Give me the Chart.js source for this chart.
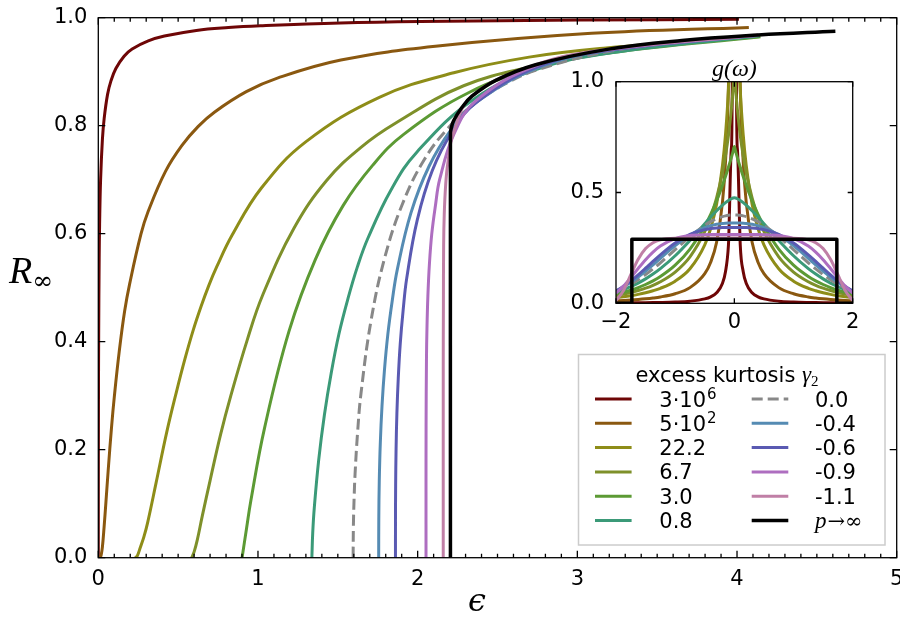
<!DOCTYPE html>
<html>
<head>
<meta charset="utf-8">
<script src="https://cdn.jsdelivr.net/npm/chart.js@4.4.1/dist/chart.umd.min.js"></script>
<style>
  html, body { margin: 0; padding: 0; background: #fff; }
  #wrap { position: relative; width: 900px; height: 619px; }
  #main { position: absolute; left: 0; top: 0; }
  #inset { position: absolute; left: 540px; top: 50px; }
</style>
</head>
<body>
<div id="wrap">
  <canvas id="main" width="900" height="619"></canvas>
  <canvas id="inset" width="340" height="290"></canvas>
</div>
<script>
// order parameter R_inf against coupling epsilon, one [epsilon, R] list per distribution
const curveK3e6 = [[0,0],[0.00014,0.07],[0.00105,0.287],[0.0024,0.416],[0.00543,0.553],[0.00812,0.616],[0.0143,0.699],[0.0258,0.775],[0.037,0.814],[0.058,0.858],[0.0793,0.883],[0.110,0.906],[0.1615,0.9287],[0.212,0.942],[0.313,0.957],[0.414,0.966],[0.614,0.9765],[0.815,0.9818],[1.015,0.985],[1.515,0.9903],[2.014,0.993],[3.013,0.9956],[4.012,0.9969]];
const curveK5e2 = [[0.0119,0],[0.018,0.005],[0.0256,0.0195],[0.036,0.0556],[0.048,0.104],[0.0619,0.1615],[0.0828,0.2415],[0.1005,0.2986],[0.131,0.3815],[0.1645,0.456],[0.197,0.508],[0.267,0.599],[0.312,0.641],[0.42,0.715],[0.524,0.7635],[0.626,0.7987],[0.727,0.825],[0.927,0.863],[1.1255,0.8885],[1.519,0.9215],[2.111,0.947],[3.089,0.971],[4.074,0.982]];
const curveK22 = [[0.2325,0],[0.245,0.004],[0.263,0.019],[0.285,0.038],[0.309,0.065],[0.3615,0.138],[0.429,0.233],[0.489,0.3067],[0.543,0.3685],[0.594,0.421],[0.644,0.4656],[0.693,0.5048],[0.742,0.539],[0.8375,0.597],[1.0225,0.685],[1.299,0.770],[1.76,0.8525],[2.226,0.898],[2.698,0.927],[3.18,0.944],[4.137,0.967]];
const curveK6_7 = [[0.585,0],[0.6,0.0107],[0.62,0.033],[0.651,0.0769],[0.700,0.1428],[0.766,0.2284],[0.83,0.300],[0.932,0.4025],[1.029,0.486],[1.227,0.611],[1.431,0.699],[1.645,0.760],[1.863,0.805],[2.288,0.874],[2.74,0.911],[3.197,0.938],[4.143,0.965]];
const curveK3 = [[0.9003,0],[0.9283,0.0539],[0.955,0.105],[1.041,0.240],[1.194,0.419],[1.359,0.552],[1.533,0.652],[1.719,0.727],[1.9125,0.784],[2.3215,0.8615],[2.753,0.908],[3.209,0.935],[4.147,0.9645]];
const curveK0_8 = [[1.3375,0],[1.3429,0.0465],[1.3526,0.0924],[1.3803,0.1811],[1.4161,0.2648],[1.459,0.3427],[1.5073,0.4147],[1.5634,0.4797],[1.623,0.539],[1.689,0.592],[1.834,0.6816],[1.996,0.7515],[2.354,0.8495],[2.75,0.905],[3.21,0.935],[4.14,0.966]];
const curveK0 = [[1.5958,0],[1.5976,0.06],[1.602,0.11],[1.608,0.155],[1.6236,0.231],[1.645,0.304],[1.708,0.439],[1.795,0.557],[1.906,0.656],[2.039,0.736],[2.195,0.797],[2.369,0.844],[2.559,0.879],[2.763,0.905],[3.2,0.9375],[3.664,0.955],[4.137,0.967]];
const curveKm0_4 = [[1.7559,0],[1.7566,0.0712],[1.7596,0.1421],[1.7661,0.2123],[1.7768,0.2814],[1.7924,0.3487],[1.8132,0.4136],[1.8406,0.4754],[1.8727,0.534],[1.958,0.6385],[2.0707,0.7244],[2.2087,0.7923],[2.37,0.8439],[2.755,0.9074],[3.194,0.9392],[4.135,0.9673]];
const curveKm0_6 = [[1.861,0],[1.8611,0.0672],[1.8621,0.1343],[1.8648,0.2011],[1.870,0.2674],[1.8786,0.3327],[1.891,0.3966],[1.909,0.458],[1.9316,0.5177],[1.9977,0.6257],[2.0918,0.7171],[2.217,0.7893],[2.37,0.8439],[2.75,0.9091],[3.194,0.9395],[4.135,0.9675]];
const curveKm0_9 = [[2.0523,0],[2.0523,0.1218],[2.0527,0.2436],[2.0551,0.365],[2.0583,0.4251],[2.064,0.4845],[2.0734,0.5426],[2.088,0.5986],[2.111,0.6513],[2.1386,0.7014],[2.2284,0.7853],[2.3638,0.8461],[2.743,0.9115],[3.19,0.9405],[4.134,0.9675]];
const curveKm1_1 = [[2.1602,0],[2.1602,0.3],[2.1605,0.4],[2.1612,0.4627],[2.1626,0.578],[2.1664,0.6347],[2.1752,0.6896],[2.189,0.731],[2.224,0.7869],[2.34,0.8546],[2.739,0.9129],[3.187,0.9413],[4.133,0.9678]];
const curvePinf = [[2.2053,0],[2.2053,0.7854],[2.208,0.7926],[2.225,0.809],[2.278,0.8341],[2.34,0.8546],[2.489,0.8839],[2.739,0.9129],[3.187,0.9413],[3.6545,0.9577],[4.133,0.9678],[4.616,0.9748]];

const kurtosisLabels = ['3·10^6', '5·10^2', '22.2', '6.7', '3.0', '0.8', '0.0', '-0.4', '-0.6', '-0.9', '-1.1', 'p→∞'];
const curveColors = ['#6e0606', '#8a5810', '#8e8d18', '#7e902a', '#5c9a34', '#3b9a78', '#888888', '#558bb3', '#5a5ab2', '#ae6ec0', '#c07fa6', '#000000'];

// frequency densities g(omega), tabulated for omega >= 0 (symmetric)
const omegaHalf = [0, 0.02, 0.05, 0.1, 0.15, 0.2, 0.3, 0.4, 0.5, 0.75, 1, 1.25, 1.375, 1.5, 1.625, 1.75, 1.875, 2];
const gK3e6 = [680000, 2.37, 0.70, 0.262, 0.1424, 0.0908, 0.0474, 0.029, 0.0198, 0.00967, 0.00574, 0.00377, 0.00315, 0.00265, 0.00226, 0.00197, 0.00171, 0.0015];
const gK5e2 = [53.7, 3.68, 1.85, 0.977, 0.637, 0.4575, 0.2755, 0.1856, 0.1339, 0.0707, 0.0431, 0.0286, 0.0239, 0.0202, 0.0172, 0.0148, 0.0128, 0.0112];
const gK22 = [2.739, 1.715, 1.307, 0.9617, 0.760, 0.6234, 0.447, 0.3377, 0.2637, 0.1558, 0.1, 0.0677, 0.0565, 0.04755, 0.0403, 0.0344, 0.0295, 0.0254];
const gK6_7 = [1.0885, 0.9764, 0.877, 0.757, 0.6653, 0.5908, 0.4756, 0.3896, 0.3231, 0.2099, 0.1411, 0.0973, 0.0813, 0.0683, 0.0575, 0.0486, 0.0413, 0.0350];
const gK3 = [0.7071, 0.6874, 0.6588, 0.6139, 0.572, 0.5329, 0.4627, 0.4017, 0.3487, 0.2449, 0.1720, 0.1208, 0.1012, 0.0848, 0.0710, 0.0596, 0.0499, 0.0419];
const gK0_8 = [0.476, 0.4749, 0.4718, 0.4641, 0.4545, 0.4433, 0.4176, 0.3891, 0.3591, 0.2837, 0.2146, 0.1564, 0.1318, 0.1101, 0.0914, 0.0753, 0.0616, 0.05];
const gK0 = [0.3989, 0.3988, 0.3984, 0.3970, 0.3945, 0.3910, 0.3814, 0.3683, 0.3521, 0.3011, 0.2420, 0.1826, 0.1550, 0.1295, 0.1066, 0.0863, 0.0688, 0.0540];
const gKm0_4 = [0.3626, 0.3626, 0.3625, 0.3622, 0.3615, 0.3604, 0.3567, 0.3505, 0.3419, 0.3085, 0.2601, 0.2030, 0.1737, 0.1452, 0.1186, 0.0944, 0.0733, 0.0554];
const gKm0_6 = [0.3421, 0.3421, 0.3421, 0.3420, 0.3418, 0.3415, 0.3400, 0.3371, 0.3325, 0.3107, 0.2723, 0.2189, 0.1891, 0.1584, 0.1286, 0.1009, 0.0761, 0.0552];
const gKm0_9 = [0.3102, 0.3102, 0.3102, 0.3102, 0.3102, 0.3102, 0.3102, 0.3100, 0.3096, 0.3058, 0.2922, 0.2583, 0.2311, 0.1968, 0.1573, 0.1160, 0.0774, 0.0456];
const gKm1_1 = [0.2947, 0.2947, 0.2947, 0.2947, 0.2947, 0.2947, 0.2947, 0.2947, 0.2947, 0.2947, 0.2938, 0.2864, 0.2736, 0.2468, 0.1986, 0.1288, 0.0566, 0.0127];
const uniformOmega = [-2, -1.732, -1.732, 1.732, 1.732, 2];
const uniformG = [0, 0, 0.2887, 0.2887, 0, 0];

const xTicksMain = [0, 1, 2, 3, 4, 5];
const yTicksMain = [0, 0.2, 0.4, 0.6, 0.8, 1.0];
const xTicksInset = [-2, 0, 2];
const yTicksInset = [0, 0.5, 1.0];

Chart.defaults.font.family = '"DejaVu Sans"';
Chart.defaults.font.size = 21;
Chart.defaults.color = '#000';

const mainCurves = [curveK3e6, curveK5e2, curveK22, curveK6_7, curveK3, curveK0_8, curveK0, curveKm0_4, curveKm0_6, curveKm0_9, curveKm1_1, curvePinf];
const densities = [gK3e6, gK5e2, gK22, gK6_7, gK3, gK0_8, gK0, gKm0_4, gKm0_6, gKm0_9, gKm1_1];

function lineStyle(i, n) {
  return {
    label: kurtosisLabels[i],
    borderColor: curveColors[i],
    borderWidth: i === n - 1 ? 3.5 : 3,
    borderDash: i === 6 ? [11, 5] : [],
    borderJoinStyle: 'round',
    pointRadius: 0,
    fill: false,
    order: n - i   // later curves end up on top
  };
}

// inward ticks on all four sides plus the axes box
const framePlugin = {
  id: 'frame',
  afterDatasetsDraw(chart, args, opts) {
    const { ctx, chartArea: a, scales: { x, y } } = chart;
    ctx.save();
    ctx.strokeStyle = '#000';
    ctx.lineWidth = 1.3;
    ctx.setLineDash([]);
    ctx.beginPath();
    const tickX = (v, len) => {
      const p = x.getPixelForValue(v);
      ctx.moveTo(p, a.bottom); ctx.lineTo(p, a.bottom - len);
      ctx.moveTo(p, a.top); ctx.lineTo(p, a.top + len);
    };
    const tickY = (v, len) => {
      const p = y.getPixelForValue(v);
      ctx.moveTo(a.left, p); ctx.lineTo(a.left + len, p);
      ctx.moveTo(a.right, p); ctx.lineTo(a.right - len, p);
    };
    x.ticks.forEach(t => tickX(t.value, opts.major));
    y.ticks.forEach(t => tickY(t.value, opts.major));
    if (opts.minorStep) {
      for (let k = 1; x.min + k * opts.minorStep < x.max - 1e-9; k++) {
        tickX(x.min + k * opts.minorStep, opts.minor);
      }
    }
    ctx.stroke();
    ctx.strokeRect(a.left, a.top, a.right - a.left, a.bottom - a.top);
    ctx.restore();
  }
};

function drawEntryLabel(ctx, text, x, y) {
  ctx.textAlign = 'left';
  ctx.textBaseline = 'alphabetic';
  ctx.fillStyle = '#000';
  if (text.startsWith('p')) {
    ctx.font = 'italic 23px "Liberation Serif"';
    ctx.fillText('p', x, y);
    const w = ctx.measureText('p').width;
    ctx.font = '21px "DejaVu Serif"';
    ctx.fillText(text.slice(1), x + w + 1, y);
    return;
  }
  const [base, sup] = text.split('^');
  ctx.font = '21px "DejaVu Sans"';
  ctx.fillText(base, x, y);
  if (sup) {
    const w = ctx.measureText(base).width;
    ctx.font = '15px "DejaVu Sans"';
    ctx.fillText(sup, x + w + 1, y - 8);
  }
}

const legendPlugin = {
  id: 'kurtosisLegend',
  afterDraw(chart) {
    const ctx = chart.ctx;
    ctx.save();
    // legend box
    ctx.fillStyle = '#fff';
    ctx.fillRect(578.5, 354.5, 306.5, 190.5);
    ctx.strokeStyle = '#cccccc';
    ctx.lineWidth = 1.5;
    ctx.strokeRect(578.5, 354.5, 306.5, 190.5);

    // title: excess kurtosis gamma_2
    ctx.fillStyle = '#000';
    ctx.textBaseline = 'alphabetic';
    ctx.textAlign = 'left';
    ctx.font = '21px "DejaVu Sans"';
    const t1 = 'excess kurtosis ';
    const w1 = ctx.measureText(t1).width;
    ctx.font = 'italic 23px "Liberation Serif"';
    const w2 = ctx.measureText('γ').width;
    ctx.font = '15px "Liberation Serif"';
    const w3 = ctx.measureText('2').width;
    let tx = 727 - (w1 + w2 + w3) / 2;
    const ty = 381.5;
    ctx.font = '21px "DejaVu Sans"';
    ctx.fillText(t1, tx, ty);
    tx += w1;
    ctx.font = 'italic 23px "Liberation Serif"';
    ctx.fillText('γ', tx, ty);
    tx += w2;
    ctx.font = '15px "Liberation Serif"';
    ctx.fillText('2', tx, ty + 4);

    chart.data.datasets.forEach((ds, i) => {
      const col = Math.floor(i / 6);
      const row = i % 6;
      const ly = 399 + row * 24.3;
      const lx = col ? 751.7 : 595;
      ctx.strokeStyle = ds.borderColor;
      ctx.lineWidth = ds.borderWidth;
      ctx.setLineDash(ds.borderDash);
      ctx.beginPath();
      ctx.moveTo(lx, ly);
      ctx.lineTo(lx + 36.6, ly);
      ctx.stroke();
      ctx.setLineDash([]);
      drawEntryLabel(ctx, ds.label, col ? 815 : 659.3, ly + 7.5);
    });

    // axis labels
    ctx.fillStyle = '#000';
    ctx.textAlign = 'left';
    ctx.font = 'italic 38px "Liberation Serif"';
    ctx.fillText('R', 9, 283);
    const wr = ctx.measureText('R').width;
    ctx.font = '25px "DejaVu Serif"';
    ctx.fillText('∞', 9 + wr, 289);
    ctx.textAlign = 'center';
    ctx.font = 'italic 32px "DejaVu Serif"';
    ctx.fillText('ϵ', 477, 611);
    ctx.restore();
  }
};

new Chart(document.getElementById('main'), {
  type: 'line',
  data: {
    datasets: mainCurves.map((pts, i) => Object.assign(
      { data: pts.map(([x, y]) => ({ x, y })), tension: 0.4 }, lineStyle(i, mainCurves.length)))
  },
  options: {
    responsive: false,
    animation: false,
    devicePixelRatio: 1,
    layout: { autoPadding: false, padding: { top: 17.7, right: 3.3, left: 0, bottom: 0 } },
    plugins: {
      legend: { display: false },
      tooltip: { enabled: false },
      frame: { major: 7, minor: 4, minorStep: 0.1 }
    },
    scales: {
      x: {
        type: 'linear', min: 0, max: 5,
        grid: { display: false, drawTicks: false },
        border: { display: false },
        afterBuildTicks: s => { s.ticks = xTicksMain.map(v => ({ value: v })); },
        afterFit: s => { s.height = 61.3; s.paddingLeft = 0; s.paddingRight = 0; },
        ticks: { padding: 9, maxRotation: 0, callback: v => String(v) }
      },
      y: {
        type: 'linear', min: 0, max: 1,
        grid: { display: false, drawTicks: false },
        border: { display: false },
        afterBuildTicks: s => { s.ticks = yTicksMain.map(v => ({ value: v })); },
        afterFit: s => { s.width = 98.3; s.paddingTop = 0; s.paddingBottom = 0; },
        ticks: { padding: 11, callback: v => v.toFixed(1) }
      }
    }
  },
  plugins: [framePlugin, legendPlugin]
});

// inset: the densities themselves
const mirrored = (w, g) => [
  ...w.slice(1).map((v, i) => ({ x: -v, y: g[i + 1] })).reverse(),
  ...w.map((v, i) => ({ x: v, y: g[i] }))
];

const insetTitle = {
  id: 'insetTitle',
  beforeDatasetsDraw(chart) {
    const { ctx, chartArea: a } = chart;
    ctx.save();
    ctx.fillStyle = '#fff';
    ctx.fillRect(a.left, a.top, a.right - a.left, a.bottom - a.top);
    ctx.restore();
  },
  afterDraw(chart) {
    const { ctx, chartArea: a } = chart;
    ctx.save();
    ctx.fillStyle = '#000';
    ctx.textAlign = 'center';
    ctx.textBaseline = 'alphabetic';
    ctx.font = 'italic 24px "Liberation Serif"';
    ctx.fillText('g(ω)', (a.left + a.right) / 2, a.top - 6);
    ctx.restore();
  }
};

const insetSets = densities.map((g, i) => Object.assign(
  { data: mirrored(omegaHalf, g), cubicInterpolationMode: 'monotone' }, lineStyle(i, mainCurves.length)));
insetSets.push(Object.assign(
  { data: uniformOmega.map((v, i) => ({ x: v, y: uniformG[i] })), tension: 0 },
  lineStyle(11, mainCurves.length)));

new Chart(document.getElementById('inset'), {
  type: 'line',
  data: { datasets: insetSets },
  options: {
    responsive: false,
    animation: false,
    devicePixelRatio: 1,
    layout: { autoPadding: false, padding: { top: 31.7, right: 27.3, left: 0, bottom: 0 } },
    plugins: {
      legend: { display: false },
      tooltip: { enabled: false },
      frame: { major: 5, minor: 0, minorStep: 0 }
    },
    scales: {
      x: {
        type: 'linear', min: -2, max: 2,
        grid: { display: false, drawTicks: false },
        border: { display: false },
        afterBuildTicks: s => { s.ticks = xTicksInset.map(v => ({ value: v })); },
        afterFit: s => { s.height = 36.7; s.paddingLeft = 0; s.paddingRight = 0; },
        ticks: { padding: 7, maxRotation: 0, callback: v => (v < 0 ? '\u2212' + Math.abs(v) : String(v)) }
      },
      y: {
        type: 'linear', min: 0, max: 1,
        grid: { display: false, drawTicks: false },
        border: { display: false },
        afterBuildTicks: s => { s.ticks = yTicksInset.map(v => ({ value: v })); },
        afterFit: s => { s.width = 76; s.paddingTop = 0; s.paddingBottom = 0; },
        ticks: { padding: 12, callback: v => v.toFixed(1) }
      }
    }
  },
  plugins: [framePlugin, insetTitle]
});
</script>
</body>
</html>
